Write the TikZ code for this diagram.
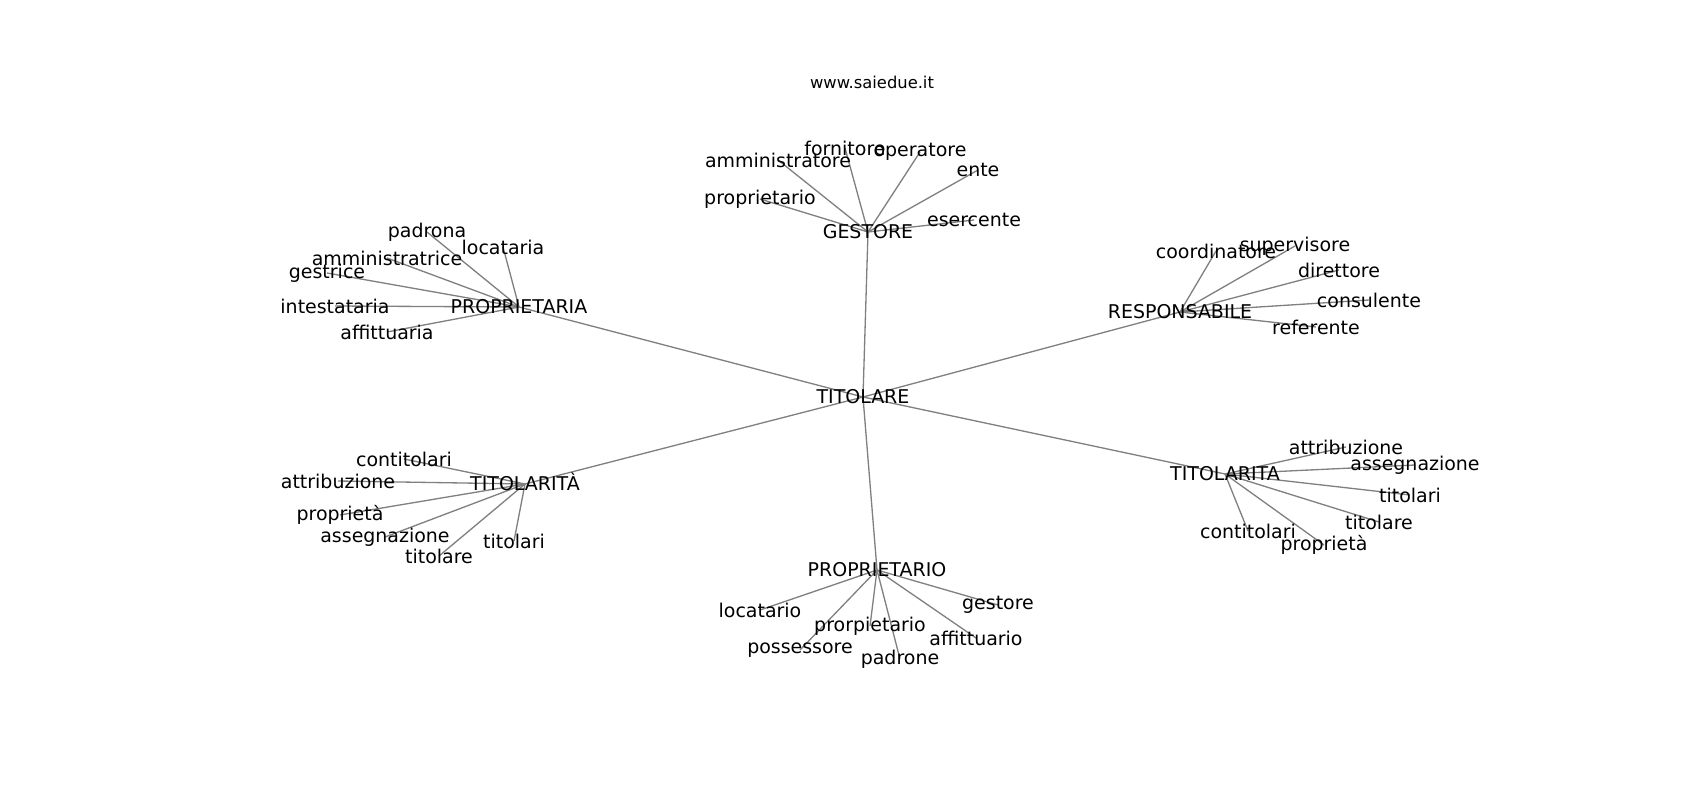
\documentclass[tikz,border=0pt]{standalone}
\usepackage{fontspec}
\setmainfont{DejaVu Sans}
\begin{document}
\begin{tikzpicture}[x=0.01in,y=-0.01in,
  lbl/.style={inner sep=0pt,font=\fontsize{13.7}{16}\selectfont,text=black},
  ttl/.style={inner sep=0pt,font=\fontsize{11.8}{14}\selectfont,text=black},
  edge/.style={draw=black!50,line width=0.95pt}]
\useasboundingbox (0,0) rectangle (1700,800);
\fill[white] (0,0) rectangle (1700,800);
% hubs
\coordinate (TIT) at (863,397);
\coordinate (GES) at (868,232);
\coordinate (PRA) at (519,307);
\coordinate (RES) at (1180,312);
\coordinate (TLA) at (525,484);
\coordinate (TLB) at (1225,474);
\coordinate (PRO) at (877,570);
% GESTORE leaves
\coordinate (g1) at (778,160);
\coordinate (g2) at (845,148);
\coordinate (g3) at (920,152);
\coordinate (g4) at (978,170);
\coordinate (g5) at (760,199);
\coordinate (g6) at (974,220);
% PROPRIETARIA leaves
\coordinate (a1) at (427,232);
\coordinate (a2) at (503,247);
\coordinate (a3) at (387,258);
\coordinate (a4) at (327,273);
\coordinate (a5) at (335,306);
\coordinate (a6) at (387,332);
% RESPONSABILE leaves
\coordinate (r1) at (1216,251);
\coordinate (r2) at (1295,246);
\coordinate (r3) at (1339,270);
\coordinate (r4) at (1369,300);
\coordinate (r5) at (1316,327);
% TITOLARITÀ leaves
\coordinate (t1) at (404,459);
\coordinate (t2) at (338,481);
\coordinate (t3) at (340,515);
\coordinate (t4) at (385,537);
\coordinate (t5) at (439,556);
\coordinate (t6) at (514,541);
% TITOLARITA leaves
\coordinate (u1) at (1346,447);
\coordinate (u2) at (1415,465);
\coordinate (u3) at (1410,495);
\coordinate (u4) at (1379,522);
\coordinate (u5) at (1248,531);
\coordinate (u6) at (1324,545);
% PROPRIETARIO leaves
\coordinate (p1) at (760,610);
\coordinate (p2) at (870,626);
\coordinate (p3) at (800,650);
\coordinate (p4) at (900,659);
\coordinate (p5) at (976,638);
\coordinate (p6) at (998,605);

\foreach \h in {GES,PRA,RES,TLA,TLB,PRO} \draw[edge] (TIT) -- (\h);
\foreach \l in {g1,g2,g3,g4,g5,g6} \draw[edge] (GES) -- (\l);
\foreach \l in {a1,a2,a3,a4,a5,a6} \draw[edge] (PRA) -- (\l);
\foreach \l in {r1,r2,r3,r4,r5} \draw[edge] (RES) -- (\l);
\foreach \l in {t1,t2,t3,t4,t5,t6} \draw[edge] (TLA) -- (\l);
\foreach \l in {u1,u2,u3,u4,u5,u6} \draw[edge] (TLB) -- (\l);
\foreach \l in {p1,p2,p3,p4,p5,p6} \draw[edge] (PRO) -- (\l);

\node[ttl] (title) at (872,82) {www.saiedue.it};
\node[lbl] (nTIT) at (TIT) {TITOLARE};
\node[lbl] (nGES) at (GES) {GESTORE};
\node[lbl] (nPRA) at (PRA) {PROPRIETARIA};
\node[lbl] (nRES) at (RES) {RESPONSABILE};
\node[lbl,yshift=1.4pt] (nTLA) at (TLA) {TITOLARITÀ};
\node[lbl] (nTLB) at (TLB) {TITOLARITA};
\node[lbl] (nPRO) at (PRO) {PROPRIETARIO};

\node[lbl] (ng1) at (g1) {amministratore};
\node[lbl] (ng2) at (g2) {fornitore};
\node[lbl] (ng3) at (g3) {operatore};
\node[lbl] (ng4) at (g4) {ente};
\node[lbl] (ng5) at (g5) {proprietario};
\node[lbl] (ng6) at (g6) {esercente};

\node[lbl] (na1) at (a1) {padrona};
\node[lbl] (na2) at (a2) {locataria};
\node[lbl] (na3) at (a3) {amministratrice};
\node[lbl] (na4) at (a4) {gestrice};
\node[lbl] (na5) at (a5) {intestataria};
\node[lbl] (na6) at (a6) {affittuaria};

\node[lbl] (nr1) at (r1) {coordinatore};
\node[lbl] (nr2) at (r2) {supervisore};
\node[lbl] (nr3) at (r3) {direttore};
\node[lbl] (nr4) at (r4) {consulente};
\node[lbl] (nr5) at (r5) {referente};

\node[lbl] (nt1) at (t1) {contitolari};
\node[lbl] (nt2) at (t2) {attribuzione};
\node[lbl] (nt3) at (t3) {proprietà};
\node[lbl] (nt4) at (t4) {assegnazione};
\node[lbl] (nt5) at (t5) {titolare};
\node[lbl] (nt6) at (t6) {titolari};

\node[lbl] (nu1) at (u1) {attribuzione};
\node[lbl] (nu2) at (u2) {assegnazione};
\node[lbl] (nu3) at (u3) {titolari};
\node[lbl] (nu4) at (u4) {titolare};
\node[lbl] (nu5) at (u5) {contitolari};
\node[lbl] (nu6) at (u6) {proprietà};

\node[lbl] (np1) at (p1) {locatario};
\node[lbl] (np2) at (p2) {prorpietario};
\node[lbl] (np3) at (p3) {possessore};
\node[lbl] (np4) at (p4) {padrone};
\node[lbl] (np5) at (p5) {affittuario};
\node[lbl] (np6) at (p6) {gestore};
\end{tikzpicture}
\end{document}
